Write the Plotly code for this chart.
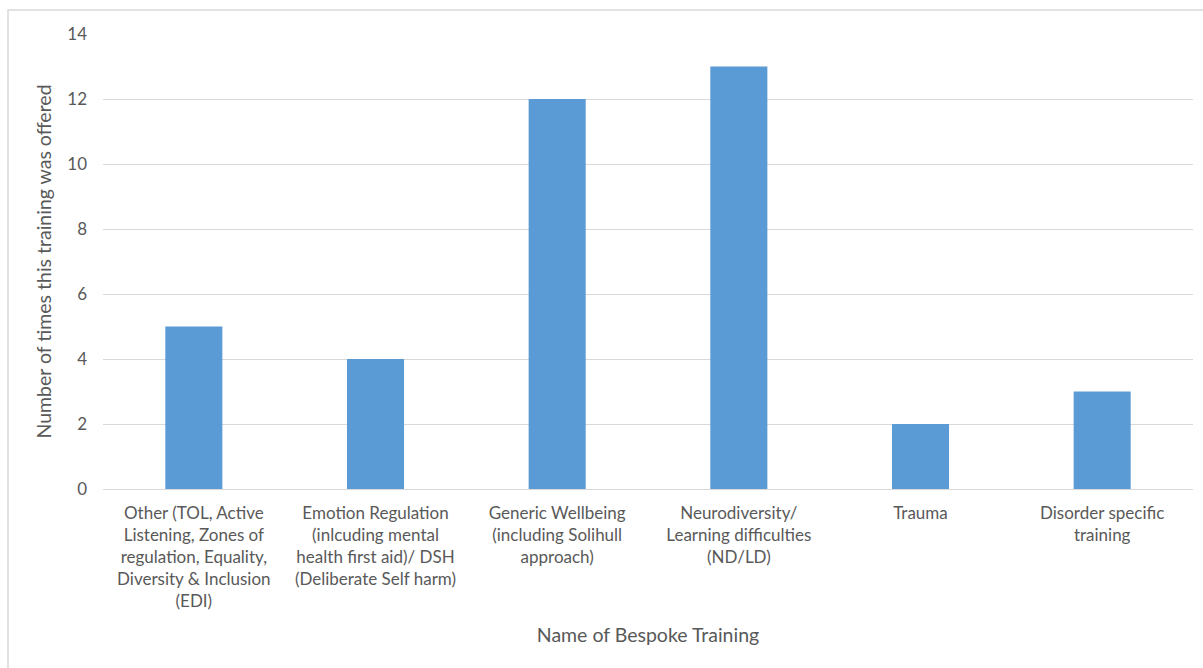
import plotly.graph_objects as go

categories = [
    "Other (TOL, Active<br>Listening, Zones of<br>regulation, Equality,<br>Diversity & Inclusion<br>(EDI)",
    "Emotion Regulation<br>(inlcuding mental<br>health first aid)/ DSH<br>(Deliberate Self harm)",
    "Generic Wellbeing<br>(including Solihull<br>approach)",
    "Neurodiversity/<br>Learning difficulties<br>(ND/LD)",
    "Trauma",
    "Disorder specific<br>training",
]
counts = [5, 4, 12, 13, 2, 3]
y_ticks = [0, 2, 4, 6, 8, 10, 12, 14]

BAR = "#5B9BD5"
GRID = "#D9D9D9"
TEXT = "#595959"
FONT = "Lato"

fig = go.Figure(
    go.Bar(x=categories, y=counts, marker=dict(color=BAR, line=dict(width=0)))
)

fig.update_layout(
    width=1203,
    height=668,
    margin=dict(l=103, r=10, t=34, b=179),
    paper_bgcolor="white",
    plot_bgcolor="white",
    bargap=0.686,
    showlegend=False,
    font=dict(family=FONT, size=17, color=TEXT),
    xaxis=dict(
        title=dict(text="Name of Bespoke Training", font=dict(size=19.5, color=TEXT), standoff=17),
        showgrid=False,
        showline=False,
        ticks="",
        ticklabelstandoff=12,
        tickfont=dict(size=17, color=TEXT),
        tickangle=0,
    ),
    yaxis=dict(
        title=dict(text="Number of times this training was offered", font=dict(size=19.5, color=TEXT), standoff=10),
        range=[0, 14],
        tickvals=y_ticks,
        showgrid=True,
        gridcolor=GRID,
        gridwidth=1.3,
        zeroline=True,
        zerolinecolor=GRID,
        zerolinewidth=1.3,
        showline=False,
        ticks="",
        ticklabelstandoff=15,
        tickfont=dict(size=17, color=TEXT),
    ),
    shapes=[
        dict(
            type="rect",
            xref="paper",
            yref="paper",
            x0=(8 - 103) / 1090,
            x1=(1215 - 103) / 1090,
            y0=(489 - 690) / 455,
            y1=(489 - 10) / 455,
            line=dict(color=GRID, width=1.5),
            fillcolor="rgba(0,0,0,0)",
            layer="below",
        )
    ],
)

fig.write_html("out.html")
